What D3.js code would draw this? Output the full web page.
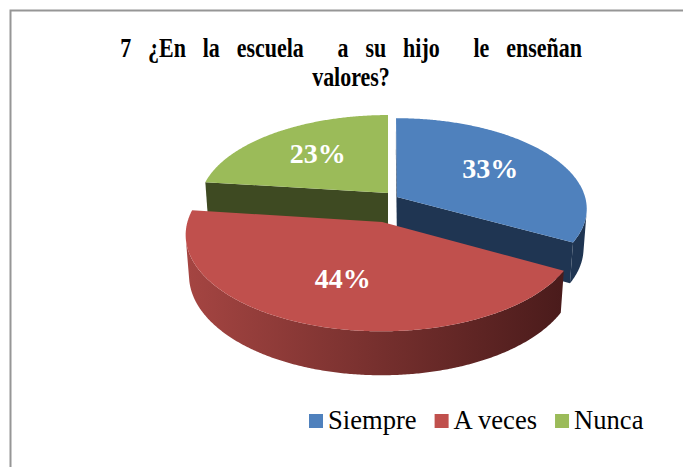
<!DOCTYPE html>
<html>
<head>
<meta charset="utf-8">
<script src="https://cdn.jsdelivr.net/npm/d3@7"></script>
<style>
  body { margin: 0; background: #fff; }
  svg { display: block; }
</style>
</head>
<body>
<div id="chart"></div>
<script>
// data
const categories = ["Siempre", "A veces", "Nunca"];
const values = [33, 44, 23];
const labels = ["33%", "44%", "23%"];
const titleLines = ["7 ¿En la escuela  a su hijo  le enseñan", "valores?"];

// styles
const font = "Liberation Serif";
const topColors = ["#4f81bd", "#c0504d", "#9bbb59"];
const sideColors = ["#1f3552", "url(#redSide)", "#3e4a22"];
const cutColors = ["#1f3552", "#6e2b29", "#3e4a22"];
// explode offset of every slice on the pie plane (x, depth), in radius units
const explode = [[0.048, -0.045], [-0.03, -0.317], [0, 0]];

const width = 683, height = 467;

const svg = d3.select("#chart")
  .append("svg")
    .attr("width", width)
    .attr("height", height);

const defs = svg.append("defs");
const grad = defs.append("linearGradient").attr("id", "redSide");
grad.append("stop").attr("offset", "0%").attr("stop-color", "#a54542");
grad.append("stop").attr("offset", "50%").attr("stop-color", "#77302e");
grad.append("stop").attr("offset", "100%").attr("stop-color", "#4a1b1b");

// chart frame
svg.append("rect")
  .attr("x", 10.5).attr("y", 10.5)
  .attr("width", 720).attr("height", 500)
  .attr("fill", "none")
  .attr("stroke", "#969696")
  .attr("stroke-width", 2);

// title
const title = svg.append("g")
  .attr("transform", "translate(351,57) scale(0.785,1)");
title.selectAll("text")
  .data(titleLines)
  .join("text")
    .attr("x", 0)
    .attr("y", (d, i) => i * 29)
    .attr("text-anchor", "middle")
    .attr("font-family", font)
    .style("white-space", "pre")
    .style("word-spacing", (d, i) => i === 0 ? "14.5px" : "0px")
    .attr("font-size", 28)
    .attr("font-weight", "bold")
    .attr("fill", "#000")
    .text(d => d);

// 3d projection of the pie
const cx = 388, cy = 193, S = 187, depth = 0.24;
const phi = Math.asin(0.469), dist = 7.06;
const sinP = Math.sin(phi), cosP = Math.cos(phi);
const cam = [0, -dist * cosP, dist * sinP];

function proj(X, D, H) {
  const u = H * cosP + D * sinP;
  const w = D * cosP - H * sinP;
  const p = dist / (dist + w);
  return [cx + S * X * p, cy - S * u * p];
}
function visible(n, P) {
  return n[0] * (cam[0] - P[0]) + n[1] * (cam[1] - P[1]) + n[2] * (cam[2] - P[2]) > 0;
}

const pie = d3.pie().sort(null).value(d => d);
const arcs = pie(values);
const line = d3.line();
const step = Math.PI / 360;

function rimPt(i, t, H) {
  const o = explode[i];
  return proj(o[0] + Math.sin(t), o[1] + Math.cos(t), H);
}
function angles(a0, a1) {
  const n = Math.max(2, Math.ceil((a1 - a0) / step));
  return d3.range(n + 1).map(k => a0 + (a1 - a0) * k / n);
}

const sides = svg.append("g");
const tops = svg.append("g");

// back slices first
const order = [2, 0, 1];
order.forEach(i => {
  const a = arcs[i], o = explode[i];
  const g = sides.append("g");
  // cut faces
  [[a.startAngle, [-Math.cos(a.startAngle), Math.sin(a.startAngle), 0]],
   [a.endAngle, [Math.cos(a.endAngle), -Math.sin(a.endAngle), 0]]].forEach(([t, n]) => {
    if (!visible(n, [o[0], o[1], -depth / 2])) return;
    const pts = [proj(o[0], o[1], 0), rimPt(i, t, 0), rimPt(i, t, -depth), proj(o[0], o[1], -depth)];
    g.append("path").attr("d", line(pts) + "Z").attr("fill", cutColors[i]);
  });
  // outer wall, front facing parts only
  let run = [];
  const runs = [];
  angles(a.startAngle, a.endAngle).forEach(t => {
    const n = [Math.sin(t), Math.cos(t), 0];
    const P = [o[0] + Math.sin(t), o[1] + Math.cos(t), -depth / 2];
    if (visible(n, P)) run.push(t);
    else if (run.length) { runs.push(run); run = []; }
  });
  if (run.length) runs.push(run);
  runs.forEach(r => {
    const topPts = r.map(t => rimPt(i, t, 0));
    const botPts = r.map(t => rimPt(i, t, -depth)).reverse();
    g.append("path").attr("d", line(topPts.concat(botPts)) + "Z").attr("fill", sideColors[i]);
  });
  // top face
  const facePts = [proj(o[0], o[1], 0)].concat(angles(a.startAngle, a.endAngle).map(t => rimPt(i, t, 0)));
  tops.append("path").attr("d", line(facePts) + "Z").attr("fill", topColors[i]);
});

// data labels
svg.append("g").selectAll("text")
  .data(arcs)
  .join("text")
    .attr("transform", (d, i) => {
      const m = (d.startAngle + d.endAngle) / 2, o = explode[i];
      const p = proj(o[0] + 0.6 * Math.sin(m), o[1] + 0.6 * Math.cos(m), 0);
      return `translate(${p[0]},${p[1]})`;
    })
    .attr("dy", "0.26em")
    .attr("text-anchor", "middle")
    .attr("font-family", font)
    .attr("font-size", 28)
    .attr("font-weight", "bold")
    .attr("fill", "#fff")
    .text((d, i) => labels[i]);

// legend
const legend = svg.append("g");
let lx = 309;
categories.forEach((c, i) => {
  legend.append("rect")
    .attr("x", lx).attr("y", 414)
    .attr("width", 14).attr("height", 14)
    .attr("fill", topColors[i]);
  const t = legend.append("text")
    .attr("transform", `translate(${lx + 19},429) scale(0.95,1)`)
    .attr("font-family", font)
    .attr("font-size", 28)
    .attr("fill", "#000")
    .text(c);
  lx += 19 + t.node().getComputedTextLength() * 0.95 + 18;
});
</script>
</body>
</html>
